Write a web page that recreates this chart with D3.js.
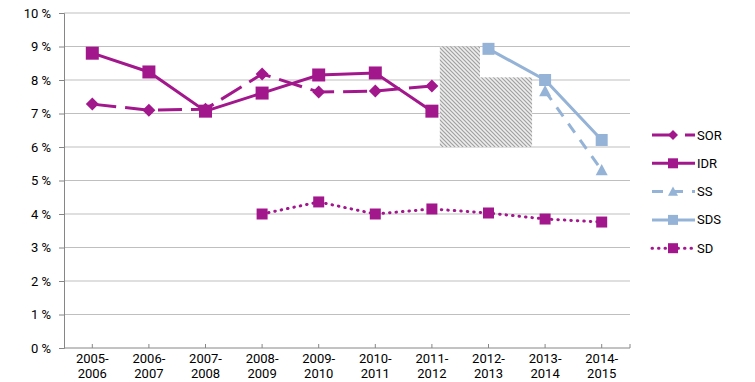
<!DOCTYPE html>
<html><head><meta charset="utf-8">
<script src="https://cdn.jsdelivr.net/npm/d3@7"></script>
<style>
body{margin:0;background:#fff;}
text{font-family:Roboto, "Liberation Sans", sans-serif;font-size:13px;fill:#000;}
</style></head>
<body><svg id="c" width="755" height="382"></svg>
<script>
const categories = ["2005-2006","2006-2007","2007-2008","2008-2009","2009-2010","2010-2011","2011-2012","2012-2013","2013-2014","2014-2015"];
const yTicks = [0,1,2,3,4,5,6,7,8,9,10];
const SOR = [7.28,7.10,7.13,8.18,7.64,7.67,7.82,null,null,null];
const IDR = [8.80,8.24,7.07,7.61,8.15,8.21,7.07,null,null,null];
const SS  = [null,null,null,null,null,null,null,null,7.67,5.31];
const SDS = [null,null,null,null,null,null,null,8.93,8.00,6.21];
const SD  = [null,null,null,4.00,4.36,4.00,4.15,4.03,3.85,3.76];
// hatched (masked) region: fractional category index ranges and top value (%), bottom value
const hatchBlocks = [{x0:6.14,x1:6.85,top:9.0},{x0:6.66,x1:7.77,top:8.08}];
const hatchBottom = 6.0;

const purple = "#a3178d", blue = "#95b3d7";
const series = [
  {name:"SOR", values:SOR, color:purple, dash:"24,9", cap:"butt", marker:"diamond", msize:13},
  {name:"IDR", values:IDR, color:purple, dash:null, cap:"butt", marker:"square", msize:13},
  {name:"SS", values:SS, color:blue, dash:"11,9", cap:"butt", marker:"triangle", msize:12},
  {name:"SDS", values:SDS, color:blue, dash:null, cap:"butt", marker:"square", msize:12},
  {name:"SD", values:SD, color:purple, dash:"0.5,6", cap:"round", marker:"square", msize:11}
];

const svg = d3.select("#c");
const L=64, R=630, T=13, B=348;
const x = d3.scaleBand().domain(categories).range([L,R]);
const xi = i => L + (i+0.5)*x.bandwidth();
const y = d3.scaleLinear().domain([0,10]).range([B,T]);

// pattern
const defs = svg.append("defs");
const pat = defs.append("pattern").attr("id","hatch").attr("patternUnits","userSpaceOnUse")
  .attr("width",4).attr("height",4);
pat.append("rect").attr("width",4).attr("height",4).attr("fill","#ededed");
pat.append("path").attr("d","M-1,-1 L5,5 M3,-1 L5,1 M-1,3 L1,5").attr("stroke","#a0a0a0").attr("stroke-width",1.2);

// gridlines
svg.append("g").selectAll("line").data(yTicks.filter(d=>d>0)).join("line")
  .attr("x1",L).attr("x2",R).attr("y1",d=>y(d)).attr("y2",d=>y(d))
  .attr("stroke","#bfbfbf").attr("stroke-width",1);

// hatch blocks
svg.append("g").selectAll("rect").data(hatchBlocks).join("rect")
  .attr("x",d=>xi(d.x0)).attr("width",d=>xi(d.x1)-xi(d.x0))
  .attr("y",d=>y(d.top)).attr("height",d=>y(hatchBottom)-y(d.top))
  .attr("fill","url(#hatch)");

// y axis
const yAxis = d3.axisLeft(y).tickValues(yTicks).tickSize(5).tickFormat(d=>d+" %");
const gy = svg.append("g").attr("transform",`translate(${L},0)`).call(yAxis);
gy.select(".domain").attr("stroke","#868686");
gy.selectAll(".tick line").attr("stroke","#868686");
gy.selectAll("text").attr("x",-13).style("font-size","13px").attr("fill","#000");

// x axis
const gx = svg.append("g").attr("transform",`translate(0,${B})`);
gx.append("line").attr("x1",L).attr("x2",R).attr("stroke","#868686");
gx.selectAll(".tk").data(categories).join("line").attr("class","tk")
  .attr("x1",d=>x(d)+x.bandwidth()/2).attr("x2",d=>x(d)+x.bandwidth()/2)
  .attr("y1",0).attr("y2",-4).attr("stroke","#868686");
gx.append("line").attr("x1",R).attr("x2",R).attr("y1",0).attr("y2",-4).attr("stroke","#868686");
const lbl = gx.selectAll(".lb").data(categories).join("text").attr("class","lb")
  .attr("text-anchor","middle");
lbl.append("tspan").attr("x",d=>x(d)+x.bandwidth()/2).attr("y",15).text(d=>d.split("-")[0]+"-");
lbl.append("tspan").attr("x",d=>x(d)+x.bandwidth()/2).attr("y",30).text(d=>d.split("-")[1]);

function markerPath(type,s){
  const h=s/2;
  if(type==="square") return `M${-h},${-h}H${h}V${h}H${-h}Z`;
  if(type==="diamond") return `M0,${-h}L${h},0L0,${h}L${-h},0Z`;
  if(type==="triangle") return `M0,${-h}L${h},${h*0.85}L${-h},${h*0.85}Z`;
}

const line = d3.line().defined(d=>d.v!=null).x(d=>xi(d.i)).y(d=>y(d.v));
series.forEach(s=>{
  const pts = s.values.map((v,i)=>({v,i}));
  svg.append("path").datum(pts).attr("d",line).attr("fill","none")
    .attr("stroke",s.color).attr("stroke-width",3)
    .attr("stroke-dasharray",s.dash).attr("stroke-linecap",s.cap);
  svg.append("g").selectAll("path").data(pts.filter(d=>d.v!=null)).join("path")
    .attr("transform",d=>`translate(${xi(d.i)},${y(d.v)})`)
    .attr("d",markerPath(s.marker,s.msize)).attr("fill",s.color);
});

// legend
const lg = svg.append("g");
series.forEach((s,k)=>{
  const yy = 135 + k*28.3;
  lg.append("line").attr("x1",652).attr("x2",695).attr("y1",yy).attr("y2",yy)
    .attr("stroke",s.color).attr("stroke-width",3).attr("stroke-dasharray",s.dash)
    .attr("stroke-linecap",s.cap);
  lg.append("path").attr("transform",`translate(673,${yy})`).attr("d",markerPath(s.marker,10)).attr("fill",s.color);
  lg.append("text").attr("x",697).attr("y",yy+4.5).text(s.name);
});
</script></body></html>
